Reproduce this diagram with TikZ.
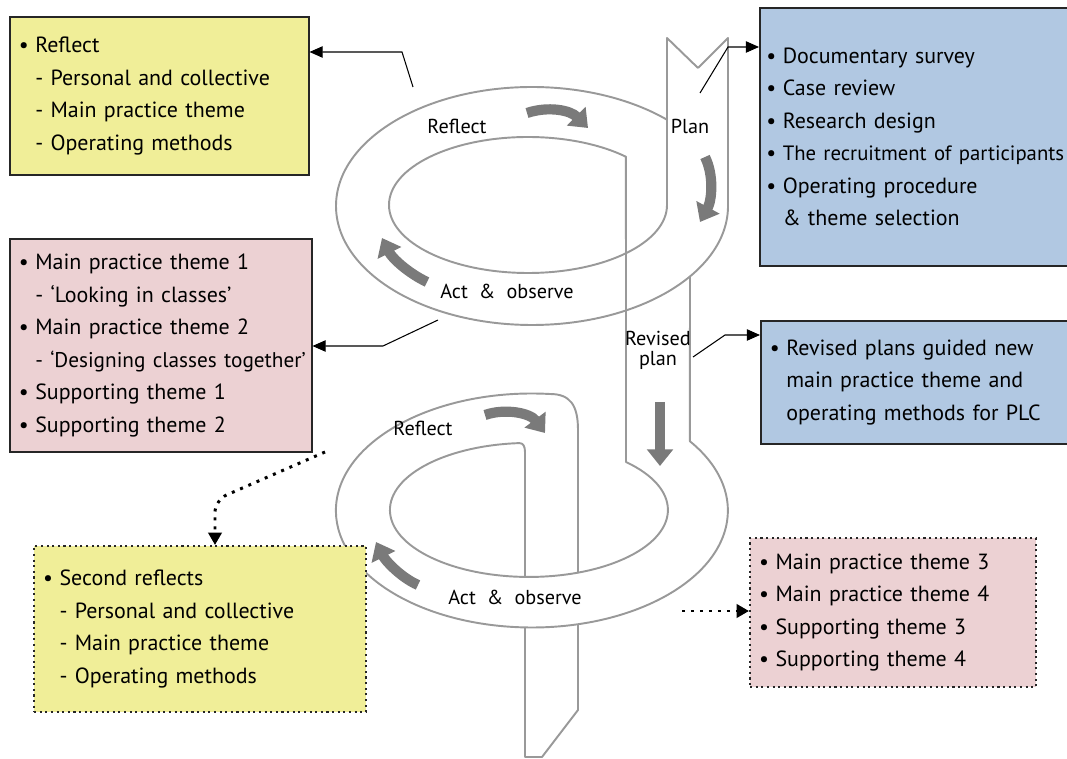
\documentclass[tikz,border=0pt]{standalone}
\usepackage{fontspec}
\setmainfont{PT Sans}
\usepackage{tikz}
\usetikzlibrary{arrows.meta}

\definecolor{yellowbox}{RGB}{240,238,152}
\definecolor{pinkbox}{RGB}{236,209,211}
\definecolor{bluebox}{RGB}{177,200,226}

\newcommand{\itembul}{\makebox[0.24cm][l]{\kern-2.5pt•}}
\newcommand{\itemsub}{\hspace*{0.24cm}}

\begin{document}
\begin{tikzpicture}[x=0.02cm, y=-0.02cm,
    ribbon/.style={draw=black!40, line width=1.1pt, line join=round},
    turn/.style={draw=black!52, line width=5.8pt, -{Triangle[length=9.5pt,width=14.5pt]}},
    infobox/.style={draw=black!85, line width=0.9pt, anchor=north west, align=left,
        inner xsep=0.27cm, inner ysep=0pt, font=\fontsize{12.5}{18.5}\selectfont},
    dotbox/.style={infobox, line width=1.2pt, dash pattern=on 1.2pt off 2pt},
    conn/.style={line width=0.6pt, -{Triangle[length=7.5pt,width=6.5pt]}},
    dotconn/.style={line width=1.7pt, dash pattern=on 1.7pt off 3.4pt,
        -{Triangle[length=7pt,width=7.5pt]}},
    lbl/.style={font=\fontsize{11.5}{11.5}\selectfont, inner sep=0pt}]

    \useasboundingbox (0,0) rectangle (1067,759);

    % upper turn: plan strip, inner edge, revised strip
    \draw[ribbon] (698,68) -- (667,38) -- (667,205)
        arc[start angle=0, end angle=314.8, x radius=139, y radius=68]
        -- (626,462)
        arc[start angle=-45.7, end angle=266, x radius=139, y radius=67]
        .. controls (523,443) and (525,446) .. (525,452) -- (525,577);
    \draw[ribbon] (698,68) -- (728,38) -- (728,206)
        arc[start angle=0, end angle=313.5, x radius=196, y radius=119];

    % lower turn
    \draw[ribbon] (578,573) -- (578,430) .. controls (578,405) and (570,394) .. (550,394)
        arc[start angle=275.3, end angle=-36.3, x radius=196, y radius=117]
        -- (690,276);
    \draw[ribbon] (525,627) -- (525,757) -- (542,757) -- (578,710) -- (578,624);

    % turning arrows
    \draw[turn] (527,113) .. controls (548,106) and (570,110) .. (588,128);
    \draw[turn] (705,157) .. controls (714,175) and (712,200) .. (700,222);
    \draw[turn] (427,282) .. controls (408,273) and (392,258) .. (382,238);
    \draw[turn] (485,415) .. controls (505,408) and (530,413) .. (545,433);
    \draw[turn] (418,585) .. controls (400,577) and (385,560) .. (376,542);
    \draw[turn] (660,402) -- (660,466);

    \node[lbl] (reflectA) at (457,126) {Reflect};
    \node[lbl] (planA) at (690,126) {Plan};
    \node[lbl] (actA) at (507,291) {Act\hspace{0.55em}\&\hspace{0.55em}observe};
    \node[lbl, align=center] (revised) at (658,350) {Revised\\plan};
    \node[lbl] (reflectB) at (423,428) {Reflect};
    \node[lbl] (actB) at (515,597) {Act\hspace{0.55em}\&\hspace{0.55em}observe};

    % boxes
    \node[infobox, fill=yellowbox, text width=5.44cm, minimum height=3.16cm] (reflectbox) at (9,16)
        {\itembul Reflect\\ \itemsub- Personal and collective\\ \itemsub- Main practice theme\\ \itemsub- Operating methods};
    \node[infobox, fill=pinkbox, text width=5.50cm, minimum height=4.26cm] (themebox) at (9,238)
        {\itembul Main practice theme 1\\ \itemsub- ‘Looking in classes’\\ \itembul Main practice theme 2\\
         \mbox{\itemsub{\fontsize{12.1}{18.5}\selectfont - ‘Designing classes together’}}\\
         \itembul Supporting theme 1\\ \itembul Supporting theme 2};
    \node[infobox, fill=bluebox, inner xsep=0.22cm, text width=6.18cm, minimum height=5.16cm] (planbox) at (759,7)
        {\itembul Documentary survey\\ \itembul Case review\\ \itembul Research design\\
         \mbox{\itembul{\fontsize{11.8}{18.5}\selectfont The recruitment of participants}}\\
         \itembul Operating procedure\\ \itemsub\& theme selection};
    \node[infobox, fill=bluebox, text width=5.86cm, minimum height=2.46cm] (revisedbox) at (760,320)
        {\itembul Revised plans guided new\\ \itemsub main practice theme and\\ \itemsub operating methods for PLC};
    \node[dotbox, fill=yellowbox, text width=6.10cm, minimum height=3.32cm] (secondbox) at (33,545)
        {\itembul Second reflects\\ \itemsub- Personal and collective\\ \itemsub- Main practice theme\\ \itemsub- Operating methods};
    \node[dotbox, fill=pinkbox, text width=5.18cm, minimum height=2.98cm] (nextbox) at (749,537)
        {\itembul Main practice theme 3\\ \itembul Main practice theme 4\\ \itembul Supporting theme 3\\ \itembul Supporting theme 4};

    % connectors
    \coordinate (c1) at (413,87);
    \coordinate (k1) at (402,52);
    \draw[conn] (c1) -- (k1) -- (k1 -| reflectbox.east);
    \coordinate (c2) at (438,320);
    \coordinate (k2) at (383,346);
    \draw[conn] (c2) -- (k2) -- (k2 -| themebox.east);
    \coordinate (c3) at (700,93);
    \coordinate (k3) at (728,47);
    \draw[conn] (c3) -- (k3) -- (k3 -| planbox.west);
    \coordinate (c4) at (693,357);
    \coordinate (k4) at (725,335);
    \draw[conn] (c4) -- (k4) -- (k4 -| revisedbox.west);
    \coordinate (c5) at (325,452);
    \coordinate (k5) at (215,500);
    \draw[dotconn, rounded corners=0.25cm] (c5) -- (k5) -- (k5 |- secondbox.north);
    \coordinate (c6) at (682,611);
    \draw[dotconn] (c6) -- (c6 -| nextbox.west);

\end{tikzpicture}
\end{document}
